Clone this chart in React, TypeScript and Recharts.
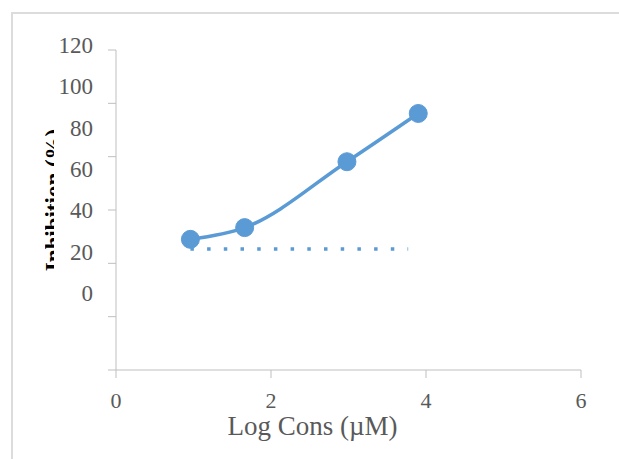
import React from "react";
import { LineChart, Line, XAxis, YAxis, Label } from "recharts";

// values
const logConc = [0.96, 1.66, 2.98, 3.9];
const inhibition = [49, 53.4, 78.1, 96.2];
const baseX = [0.96, 3.77];
const baseY = [45.4, 45.4];
const xTicks = [0, 2, 4, 6];
const yTicks = [0, 20, 40, 60, 80, 100, 120];

const curveData = logConc.map((x, i) => ({ x, y: inhibition[i] }));
const baseData = baseX.map((x, i) => ({ x, y: baseY[i] }));

const BLUE = "#5B9BD5";
const AXIS = "#bfbfbf";
const TEXT = "#595959";
const FONT = "'Liberation Serif', 'Times New Roman', serif";

const PLOT_TOP = 50;

// the labels in the original sit on a squeezed scale, not on the tick marks
const YTick = (props: any) => {
  const { x, y, payload } = props;
  const ly = 45 + (y - PLOT_TOP) * 0.775;
  return (
    <text x={x} y={ly} dy="0.35em" textAnchor="end" fill={TEXT} fontSize={23} fontFamily={FONT}>
      {payload.value}
    </text>
  );
};

// axis title is mostly hidden behind the tick labels in the original
const YTitle = () => {
  const cy = 200;
  return (
    <g>
      <defs>
        <clipPath id="ytitle-clip">
          <rect x={45} y={100} width={9} height={200} />
        </clipPath>
      </defs>
      <g clipPath="url(#ytitle-clip)">
        <text
          x={61}
          y={cy}
          transform={`rotate(-90 61 ${cy})`}
          textAnchor="middle"
          fill="#000"
          fontSize={23}
          fontWeight="bold"
          fontFamily={FONT}
        >
          Inhibition (%)
        </text>
      </g>
    </g>
  );
};

const XTitle = (props: any) => {
  const vb = props.viewBox;
  return (
    <text
      x={vb.x + vb.width / 2 - 36}
      y={vb.y + 65}
      textAnchor="middle"
      fill={TEXT}
      fontSize={27}
      fontFamily={FONT}
    >
      Log Cons (µM)
    </text>
  );
};

export default function App() {
  return (
    <div
      style={{
        position: "absolute",
        left: 0,
        top: 0,
        width: 619,
        height: 459,
        overflow: "hidden",
        background: "#fff",
      }}
    >
      <div
        style={{
          position: "absolute",
          left: 11,
          top: 12,
          width: 620,
          height: 460,
          border: "2px solid #dcdcdc",
        }}
      />
      <div style={{ position: "absolute", left: 0, top: 0 }}>
        <LineChart width={619} height={459} margin={{ top: 50, right: 38, left: 56, bottom: 29 }}>
          <XAxis
            type="number"
            dataKey="x"
            domain={[0, 6]}
            ticks={xTicks}
            height={60}
            tickSize={8}
            tickMargin={14}
            axisLine={{ stroke: AXIS }}
            tickLine={{ stroke: AXIS }}
            tick={{ fill: TEXT, fontSize: 22, fontFamily: FONT }}
            allowDataOverflow
          >
            <Label content={<XTitle />} />
          </XAxis>
          <YAxis
            type="number"
            dataKey="y"
            domain={[0, 120]}
            ticks={yTicks}
            width={60}
            tickSize={8}
            tickMargin={15}
            axisLine={{ stroke: AXIS }}
            tickLine={{ stroke: AXIS }}
            tick={<YTick />}
            allowDataOverflow
          >
            <Label content={<YTitle />} />
          </YAxis>
          <Line
            data={baseData}
            dataKey="y"
            type="linear"
            stroke={BLUE}
            strokeWidth={3.5}
            strokeDasharray="3.5 13.2"
            dot={false}
            activeDot={false}
            isAnimationActive={false}
          />
          <Line
            data={curveData}
            dataKey="y"
            type="monotone"
            stroke={BLUE}
            strokeWidth={3.5}
            dot={{ r: 9, fill: BLUE, stroke: BLUE, strokeWidth: 1 }}
            activeDot={false}
            isAnimationActive={false}
          />
        </LineChart>
      </div>
    </div>
  );
}
